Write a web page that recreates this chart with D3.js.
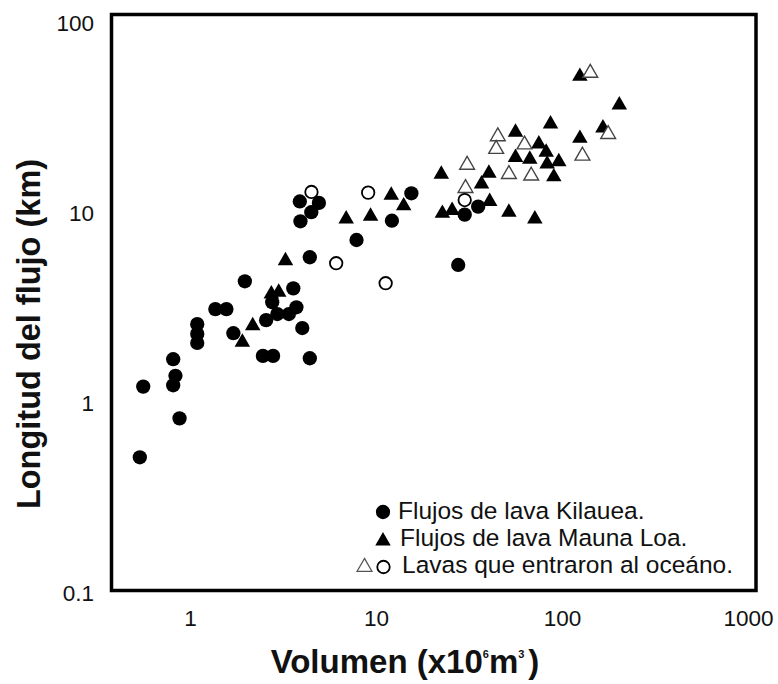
<!DOCTYPE html>
<html>
<head>
<meta charset="utf-8">
<script src="https://cdn.jsdelivr.net/npm/d3@7"></script>
<style>
  body { margin: 0; background: #fff; }
  text { font-family: "Liberation Sans", Arial, sans-serif; fill: #111; }
</style>
</head>
<body>
<div id="chart"></div>
<script>
(function () {
  // volumen (x10^6 m3), longitud (km)
  const kilaueaVol = [3.87, 4.9, 4.46, 3.9, 12.1, 7.81, 4.38, 1.96, 3.57, 1.36, 1.56, 1.087, 1.087, 1.087, 1.7, 2.55, 2.75, 2.93, 3.38, 3.71, 3.99, 2.45, 2.78, 4.38, 0.807, 0.83, 0.807, 0.557, 0.873, 0.534, 15.4, 29.8, 35.2, 27.5];
  const kilaueaLen = [11.5, 11.3, 10.1, 9.04, 9.11, 7.21, 5.85, 4.37, 4.01, 3.12, 3.12, 2.6, 2.31, 2.07, 2.33, 2.73, 3.39, 2.94, 2.94, 3.19, 2.48, 1.77, 1.77, 1.72, 1.7, 1.39, 1.24, 1.22, 0.83, 0.518, 12.7, 9.8, 10.8, 5.33];

  const maunaLoaVol = [3.24, 2.72, 2.98, 2.16, 1.9, 6.87, 9.29, 12.0, 14.0, 124, 202, 86.2, 55.9, 165, 124, 74.6, 81.7, 55.9, 66.7, 95.5, 82.7, 40.2, 22.3, 36.7, 89.8, 40.6, 25.5, 22.6, 51.5, 71.0];
  const maunaLoaLen = [5.61, 3.75, 3.83, 2.55, 2.09, 9.3, 9.61, 12.4, 10.9, 52.4, 37.0, 29.4, 26.6, 28.0, 24.7, 23.1, 20.9, 19.6, 19.2, 18.6, 18.1, 16.2, 16.0, 14.2, 15.5, 11.5, 10.3, 9.96, 10.1, 9.3];

  // lavas que entraron al oceano
  const oceanTriVol = [141, 44.9, 62.5, 44.0, 30.7, 128, 176, 51.5, 67.9, 30.1];
  const oceanTriLen = [54.6, 25.3, 22.9, 21.7, 17.9, 20.0, 26.0, 16.0, 15.7, 13.5];
  const oceanCircVol = [4.47, 9.02, 6.07, 11.2, 29.8];
  const oceanCircLen = [12.9, 12.8, 5.44, 4.27, 11.7];

  const xTicks = [1, 10, 100, 1000];
  const yTicks = [0.1, 1, 10, 100];
  const legendLabels = [
    "Flujos de lava Kilauea.",
    "Flujos de lava Mauna Loa.",
    "Lavas que entraron al oceáno.",
  ];

  const width = 778;
  const height = 684;
  const frame = { left: 111.5, top: 14.5, right: 756, bottom: 590.5 };

  const svg = d3
    .select("#chart")
    .append("svg")
    .attr("width", width)
    .attr("height", height);

  const xScale = d3.scaleLog().domain([1, 1000]).range([190.5, 748.5]);
  const yScale = d3.scaleLog().domain([0.1, 100]).range([593, 23]);

  const zip = (xs, ys) => xs.map((x, i) => ({ x: x, y: ys[i] }));

  const circle = d3.symbol().type(d3.symbolCircle).size(160);
  const triangle = d3.symbol().type(d3.symbolTriangle).size(104);
  const openCircle = d3.symbol().type(d3.symbolCircle).size(122);
  const openTriangle = d3.symbol().type(d3.symbolTriangle).size(95);

  // frame
  svg
    .append("rect")
    .attr("x", frame.left)
    .attr("y", frame.top)
    .attr("width", frame.right - frame.left)
    .attr("height", frame.bottom - frame.top)
    .style("fill", "none")
    .style("stroke", "#000")
    .style("stroke-width", 3.5);

  // tick labels (no tick marks in the original)
  svg
    .selectAll("text.tick-x")
    .data(xTicks)
    .join("text")
    .attr("class", "tick-x")
    .attr("x", (d) => xScale(d))
    .attr("y", 626)
    .attr("text-anchor", "middle")
    .style("font-size", "22.5px")
    .text((d) => d);

  svg
    .selectAll("text.tick-y")
    .data(yTicks)
    .join("text")
    .attr("class", "tick-y")
    .attr("x", 94)
    .attr("y", (d) => yScale(d))
    .attr("dy", "0.36em")
    .attr("text-anchor", "end")
    .style("font-size", "22.5px")
    .text((d) => d);

  // axis titles
  const xTitle = svg
    .append("text")
    .attr("x", 405)
    .attr("y", 673)
    .attr("text-anchor", "middle")
    .style("font-size", "33px")
    .style("font-weight", "bold");
  xTitle.append("tspan").text("Volumen (x10");
  xTitle.append("tspan").attr("dy", -15).style("font-size", "11px").text("6");
  xTitle.append("tspan").attr("dy", 15).text("m");
  xTitle.append("tspan").attr("dy", -15).style("font-size", "11px").text("3");
  xTitle.append("tspan").attr("dy", 15).attr("dx", 4).text(")");

  svg
    .append("text")
    .attr("transform", "translate(40, 334) rotate(-90)")
    .attr("text-anchor", "middle")
    .style("font-size", "32.5px")
    .style("font-weight", "bold")
    .text("Longitud del flujo (km)");

  // points
  svg
    .selectAll("path.kilauea")
    .data(zip(kilaueaVol, kilaueaLen))
    .join("path")
    .attr("class", "kilauea")
    .attr("d", circle)
    .attr("transform", (d) => `translate(${xScale(d.x)}, ${yScale(d.y)})`)
    .style("fill", "#000");

  svg
    .selectAll("path.mauna-loa")
    .data(zip(maunaLoaVol, maunaLoaLen))
    .join("path")
    .attr("class", "mauna-loa")
    .attr("d", triangle)
    .attr("transform", (d) => `translate(${xScale(d.x)}, ${yScale(d.y)})`)
    .style("fill", "#000");

  svg
    .selectAll("path.ocean-tri")
    .data(zip(oceanTriVol, oceanTriLen))
    .join("path")
    .attr("class", "ocean-tri")
    .attr("d", openTriangle)
    .attr("transform", (d) => `translate(${xScale(d.x)}, ${yScale(d.y)})`)
    .style("fill", "#fff")
    .style("stroke", "#444")
    .style("stroke-width", 1.4);

  svg
    .selectAll("path.ocean-circ")
    .data(zip(oceanCircVol, oceanCircLen))
    .join("path")
    .attr("class", "ocean-circ")
    .attr("d", openCircle)
    .attr("transform", (d) => `translate(${xScale(d.x)}, ${yScale(d.y)})`)
    .style("fill", "#fff")
    .style("stroke", "#000")
    .style("stroke-width", 1.8);

  // legend
  const legend = svg.append("g");
  legend
    .append("path")
    .attr("d", circle)
    .attr("transform", "translate(383, 512)")
    .style("fill", "#000");
  legend
    .append("path")
    .attr("d", triangle)
    .attr("transform", "translate(383, 541)")
    .style("fill", "#000");
  legend
    .append("path")
    .attr("d", openTriangle)
    .attr("transform", "translate(364.5, 567)")
    .style("fill", "#fff")
    .style("stroke", "#555")
    .style("stroke-width", 1.3);
  legend
    .append("path")
    .attr("d", openCircle)
    .attr("transform", "translate(383.5, 567)")
    .style("fill", "#fff")
    .style("stroke", "#000")
    .style("stroke-width", 1.8);

  legend
    .selectAll("text")
    .data(legendLabels)
    .join("text")
    .attr("x", (d, i) => 398 + i * 2)
    .attr("y", (d, i) => 519 + i * 27)
    .style("font-size", "24.5px")
    .text((d) => d);
})();
</script>
</body>
</html>
